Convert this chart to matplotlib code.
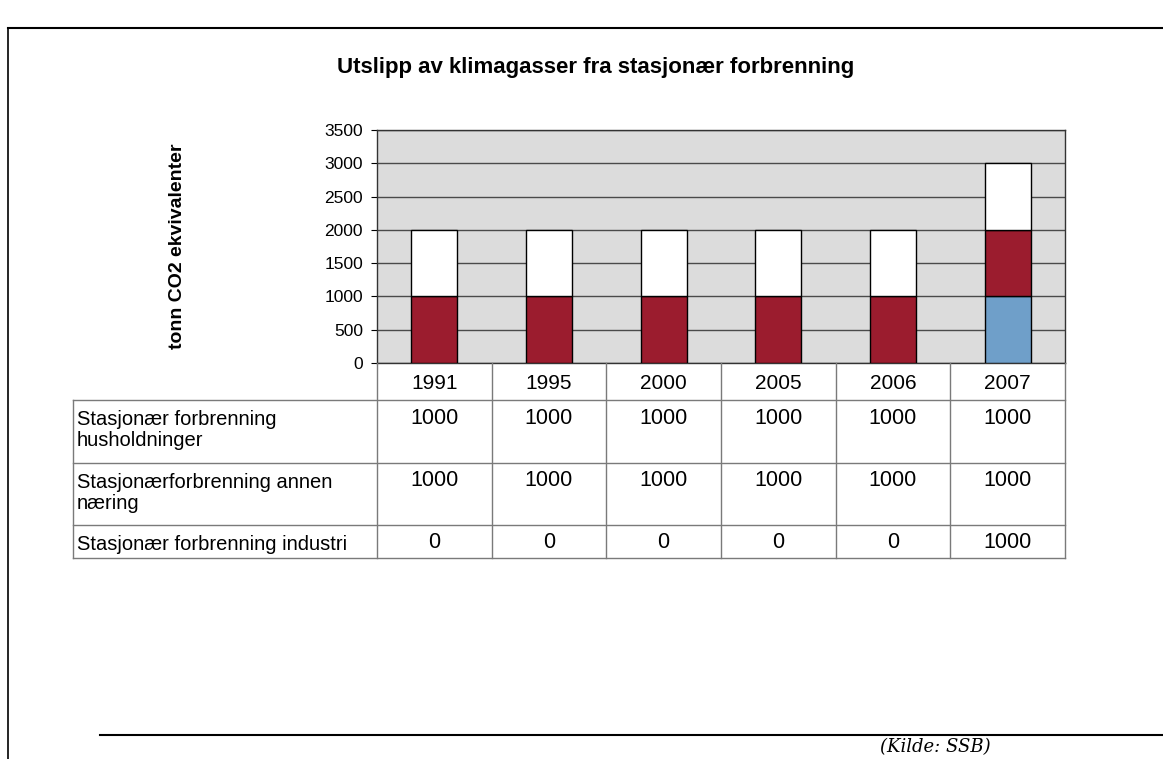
import matplotlib.pyplot as plt
from matplotlib.lines import Line2D

plt.rcParams['font.family'] = ['Liberation Sans', 'DejaVu Sans']

#=== DATA ===
years = ['1991', '1995', '2000', '2005', '2006', '2007']
husholdninger = [1000, 1000, 1000, 1000, 1000, 1000]
annen_naering = [1000, 1000, 1000, 1000, 1000, 1000]
industri = [0, 0, 0, 0, 0, 1000]
row_labels = ['Stasjonær forbrenning\nhusholdninger',
              'Stasjonærforbrenning annen\nnæring',
              'Stasjonær forbrenning industri']
yticks = [0, 500, 1000, 1500, 2000, 2500, 3000, 3500]

title = 'Utslipp av klimagasser fra stasjonær forbrenning'
ylabel = 'tonn CO2 ekvivalenter'
kilde = '(Kilde: SSB)'

#=== LAYOUT (pixels) ===
W, H = 1163, 759
ax_left, ax_right = 377, 1065
ax_top, ax_bottom = 130, 363
tab_left = 73
row_edges = [363, 400, 463, 525, 558]

fig = plt.figure(figsize=(W / 100, H / 100), dpi=100)
fig.patch.set_facecolor('white')

ax = fig.add_axes([ax_left / W, 1 - ax_bottom / H,
                   (ax_right - ax_left) / W, (ax_bottom - ax_top) / H])
ax.set_facecolor('#dcdcdc')
x = range(len(years))
b1 = industri
b2 = [i + a for i, a in zip(industri, annen_naering)]
ax.bar(x, industri, width=0.4, color='#6f9fc9', edgecolor='black', linewidth=1, zorder=3)
ax.bar(x, annen_naering, bottom=b1, width=0.4, color='#9b1c2e', edgecolor='black', linewidth=1, zorder=3)
ax.bar(x, husholdninger, bottom=b2, width=0.4, color='white', edgecolor='black', linewidth=1, zorder=3)
ax.set_xlim(-0.5, len(years) - 0.5)
ax.set_ylim(0, 3500)
ax.set_yticks(yticks)
ax.set_yticklabels([str(t) for t in yticks], fontsize=12.5)
ax.set_xticks([])
ax.yaxis.grid(True, color='#4a4a4a', linewidth=1, zorder=1)
ax.tick_params(axis='y', length=4, width=0.8, pad=6)
for s in ax.spines.values():
    s.set_color('#333333')
    s.set_linewidth(1)

#=== OVERLAY (table, titles, frame) ===
ov = fig.add_axes([0, 0, 1, 1])
ov.set_xlim(0, W)
ov.set_ylim(H, 0)
ov.axis('off')

ov.text(596, 68, title, ha='center', va='center', fontsize=16, fontweight='bold')
ov.text(177, 246, ylabel, ha='center', va='center', rotation=90,
        fontsize=14, fontweight='bold')

colw = (ax_right - ax_left) / len(years)
grid_c = '#7a7a7a'
# horizontal lines
for y in row_edges[1:]:
    ov.add_line(Line2D([tab_left, ax_right], [y, y], color=grid_c, lw=1))
# vertical lines
ov.add_line(Line2D([tab_left, tab_left], [row_edges[1], row_edges[-1]], color=grid_c, lw=1))
for i in range(len(years) + 1):
    xx = ax_left + i * colw
    ov.add_line(Line2D([xx, xx], [row_edges[0], row_edges[-1]], color=grid_c, lw=1))

for i, yr in enumerate(years):
    cx = ax_left + (i + 0.5) * colw
    ov.text(cx, (row_edges[0] + row_edges[1]) / 2 + 2, yr, ha='center', va='center', fontsize=15)
    for r, serie in enumerate([husholdninger, annen_naering, industri]):
        ov.text(cx, row_edges[r + 1] + 18, str(serie[i]), ha='center', va='center', fontsize=15.5)

for r, lab in enumerate(row_labels):
    ov.text(tab_left + 4, row_edges[r + 1] + 10, lab, ha='left', va='top',
            fontsize=14.5, linespacing=1.15)

# outer frame
ov.add_line(Line2D([8, 1170], [28, 28], color='black', lw=1.5))
ov.add_line(Line2D([8, 8], [28, 770], color='black', lw=1.2))
ov.add_line(Line2D([100, 1170], [735, 735], color='black', lw=1.5))
ov.text(880, 756, kilde, ha='left', va='bottom', fontsize=13, style='italic',
        family='DejaVu Serif')

fig.savefig('out.png', dpi=100)
